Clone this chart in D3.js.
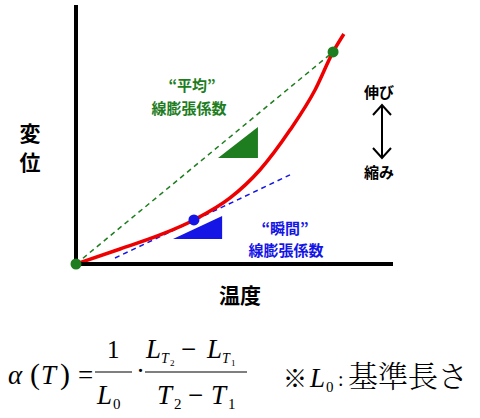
<!DOCTYPE html>
<html><head><meta charset="utf-8">
<script src="https://cdn.jsdelivr.net/npm/d3@7"></script>
<style>body{margin:0;background:#fff}</style>
</head><body>
<svg id="chart" width="480" height="418"></svg>
<script>
// curve readings (temperature %, displacement %)
const curveX = [0, 13.9, 26.5, 37.2, 48.6, 58.0, 67.5, 75.4, 81.1, 84.5];
const curveY = [0, 5.8, 11.2, 17.0, 25.5, 36.3, 51.7, 67.2, 81.9, 88.8];
const tangentX = [12.3, 67.5];
const tangentY = [2.3, 34.4];
const avgTriX = [44.8, 57.4, 57.4];
const avgTriY = [40.9, 40.9, 52.9];
const instTriX = [30.6, 46.1, 46.1];
const instTriY = [9.7, 9.7, 18.5];
const greenPts = [[0, 0], [81.1, 81.9]];
const bluePt = [37.2, 17.0];

const svg = d3.select("#chart");
const x = d3.scaleLinear().domain([0, 100]).range([76, 393]);
const y = d3.scaleLinear().domain([0, 100]).range([264, 5]);
const green = "#1e7d1e", blue = "#1515e6";
const line = d3.line().x(d => x(d[0])).y(d => y(d[1]));
const zip = (a, b) => a.map((v, i) => [v, b[i]]);

// dashed lines
svg.append("path").attr("d", line(greenPts)).attr("stroke", green)
    .attr("stroke-width", 1.5).attr("stroke-dasharray", "5,4").attr("fill", "none");
svg.append("path").attr("d", line(zip(tangentX, tangentY))).attr("stroke", blue)
    .attr("stroke-width", 1.5).attr("stroke-dasharray", "5,4").attr("fill", "none");

// triangles
svg.append("path").attr("d", line(zip(avgTriX, avgTriY)) + "Z").attr("fill", green);
svg.append("path").attr("d", line(zip(instTriX, instTriY)) + "Z").attr("fill", blue);

// red curve
svg.append("path").attr("d", d3.line().x(d => x(d[0])).y(d => y(d[1])).curve(d3.curveMonotoneX)(zip(curveX, curveY)))
    .attr("stroke", "#ee0000").attr("stroke-width", 3.5).attr("fill", "none");

// axes
svg.append("path").attr("d", `M${x(0)},${y(100)}V${y(0)}H${x(100)}`)
    .attr("stroke", "#000").attr("stroke-width", 4).attr("fill", "none");

// points
svg.selectAll(".gp").data(greenPts).enter().append("circle")
    .attr("cx", d => x(d[0])).attr("cy", d => y(d[1])).attr("r", 5.5).attr("fill", green);
svg.append("circle").attr("cx", x(bluePt[0])).attr("cy", y(bluePt[1])).attr("r", 5.5).attr("fill", blue);

const jp = "'Noto Sans CJK JP', sans-serif";
const txt = (s, tx, ty, size, col, anchor = "middle") => svg.append("text")
    .attr("x", tx).attr("y", ty).attr("font-family", jp).attr("font-weight", "bold")
    .attr("font-size", size).attr("fill", col).attr("text-anchor", anchor).text(s);

txt("変", 30, 141, 21, "#000");
txt("位", 30, 170, 21, "#000");
txt("温度", 240, 303, 21, "#000");
txt("“平均”", 192, 91, 15, green);
txt("線膨張係数", 189, 114, 15, green);
txt("“瞬間”", 285, 234, 15, blue);
txt("線膨張係数", 286, 256, 15, blue);
txt("伸び", 379, 98, 15, "#000");
txt("縮み", 379, 178, 15, "#000");

// double arrow
svg.append("path").attr("d", "M382,106V157M373,115L382,105L391,115M373,148L382,158L391,148")
    .attr("stroke", "#000").attr("stroke-width", 2).attr("fill", "none");

// formula
const serif = "'Liberation Serif', serif";
const f = svg.append("g").attr("font-family", serif).attr("font-size", 27).attr("fill", "#000");
const ft = (s, tx, ty, opts = {}) => {
    const t = f.append("text").attr("x", tx).attr("y", ty).text(s);
    Object.entries(opts).forEach(([k, v]) => t.attr(k, v));
    return t;
};
ft("α", 8, 384, {"font-style": "italic"});
ft("(", 30, 384, {"font-size": 30});
ft("T", 41, 384, {"font-style": "italic"});
ft(")", 60, 384, {"font-size": 30});
ft("=", 78, 384);
ft("1", 107, 358, {"font-size": 25});
ft("L", 97, 404, {"font-style": "italic"});
ft("0", 113, 409, {"font-size": 15});
f.append("line").attr("x1", 95).attr("x2", 132).attr("y1", 372).attr("y2", 372).attr("stroke", "#000").attr("stroke-width", 1.2);
ft("·", 136, 380);
ft("L", 146, 358, {"font-style": "italic"});
ft("T", 161, 363, {"font-style": "italic", "font-size": 14});
ft("2", 170, 366, {"font-size": 9});
ft("−", 181, 358);
ft("L", 207, 358, {"font-style": "italic"});
ft("T", 222, 363, {"font-style": "italic", "font-size": 14});
ft("1", 231, 366, {"font-size": 9});
f.append("line").attr("x1", 145).attr("x2", 247).attr("y1", 372).attr("y2", 372).attr("stroke", "#000").attr("stroke-width", 1.2);
ft("T", 157, 404, {"font-style": "italic"});
ft("2", 174, 409, {"font-size": 15});
ft("−", 188, 404);
ft("T", 211, 404, {"font-style": "italic"});
ft("1", 228, 409, {"font-size": 15});
ft("※", 283, 387, {"font-family": jp, "font-size": 24});
ft("L", 310, 387, {"font-style": "italic"});
ft("0", 326, 392, {"font-size": 15});
ft(":", 338, 386, {"font-size": 20});
ft("基準長さ", 348, 387, {"font-family": "'Noto Serif CJK JP', 'Noto Sans CJK JP', serif", "font-size": 30, "font-weight": 300});
</script>
</body></html>
